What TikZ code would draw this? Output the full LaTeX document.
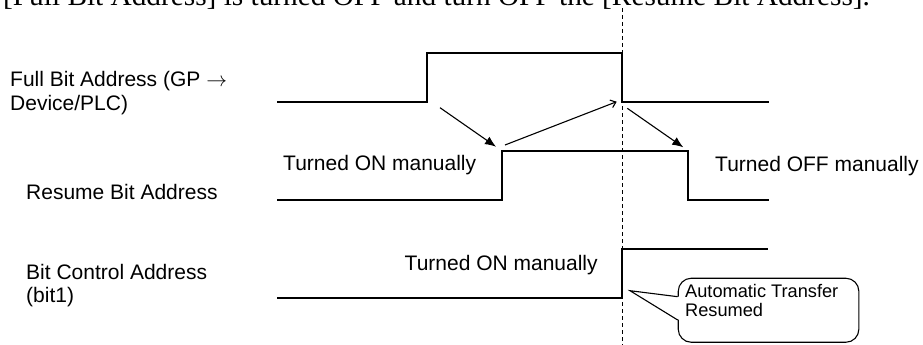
\documentclass[tikz,border=0pt]{standalone}
\usepackage{fontspec}
\setmainfont{Liberation Sans}
\newfontfamily\serifx{Liberation Serif}
\usetikzlibrary{arrows.meta}
\begin{document}
\begin{tikzpicture}[x=1pt,y=-1pt,
  sig/.style={line width=1.8pt, line join=miter},
  lbl/.style={inner sep=0pt, anchor=base west, font=\fontsize{21}{23.5}\selectfont, align=left},
  small/.style={inner sep=0pt, anchor=base west, font=\fontsize{18.2}{19}\selectfont, align=left},
  filledarrow/.style={line width=1.1pt, -{Latex[length=11pt,width=9pt]}},
  openarrow/.style={line width=1.1pt, -{Straight Barb[length=5pt,width=8pt,line width=1.1pt]}},
  guide/.style={line width=1.5pt, dash pattern=on 4pt off 3pt}]
\useasboundingbox (0,0) rectangle (923,345);
\clip (0,0) rectangle (923,345);
% clipped heading line at top
\node[inner sep=0pt, anchor=base west, font=\serifx\fontsize{29.3}{30}\selectfont] (head) at (3,5.5)
  {[Full Bit Address] is turned OFF and turn OFF the [Resume Bit Address].};
% guide line
\coordinate (gtop) at (622.3,8);
\coordinate (gbot) at (622.3,345);
\draw[guide] (gtop) -- (gbot);
% left labels (base = last line)
\node[lbl] (lfba) at (10,110) {Full Bit Address (GP $\rightarrow$\\Device/PLC)};
\node[lbl] (lres) at (26,199) {Resume Bit Address};
\node[lbl] (lbca) at (26,302.5) {Bit Control Address\\(bit1)};
% signals
\draw[sig] (277,101.7) -- (426.7,101.7) -- (426.7,52.7) -- (622.3,52.7) -- (622.3,101.7) -- (769.3,101.7);
\draw[sig] (277,200) -- (501.7,200) -- (501.7,150.8) -- (688.3,150.8) -- (688.3,200) -- (769.3,200);
\draw[sig] (277,298.3) -- (622.3,298.3) -- (622.3,249) -- (767.7,249);
% signal labels
\node[lbl] (on1) at (283,170) {Turned ON manually};
\node[lbl] (off1) at (715,171) {Turned OFF manually};
\node[lbl] (on2) at (404.5,270) {Turned ON manually};
% arrows
\coordinate (a1s) at (440,107.7);
\coordinate (a1e) at (496,146.7);
\coordinate (a2s) at (505,145);
\coordinate (a2e) at (616.7,101.7);
\coordinate (a3s) at (627.3,108.3);
\coordinate (a3e) at (683.3,147.3);
\draw[filledarrow] (a1s) -- (a1e);
\draw[openarrow] (a2s) -- (a2e);
\draw[filledarrow] (a3s) -- (a3e);
% callout
\node[draw, line width=1.1pt, rounded corners=13pt, anchor=north west, minimum width=180.6pt, minimum height=64pt, inner sep=0pt, fill=white] (cbox) at (677.7,277.7) {};
\coordinate (tip) at (630,290.7);
\coordinate (t1) at (677.7,296.7);
\coordinate (t2) at (677.7,320);
\fill[white] (679.2,296.7) -- (tip) -- (679.2,320) -- cycle;
\draw[line width=1.1pt, line join=miter] (t1) -- (tip) -- (t2);
\node[small] (ctext) at (685,316.7) {Automatic Transfer\\Resumed};
\end{tikzpicture}
\end{document}
